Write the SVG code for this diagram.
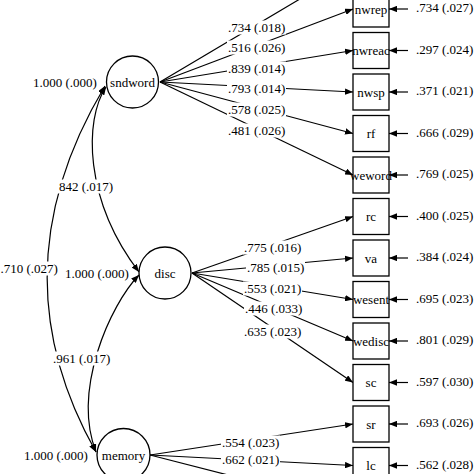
<svg xmlns="http://www.w3.org/2000/svg" width="474" height="474" viewBox="0 0 474 474">
<defs>
<marker id="ah" viewBox="0 0 10 8" refX="10" refY="4" markerWidth="8" markerHeight="6.4" markerUnits="userSpaceOnUse" orient="auto-start-reverse">
<path d="M0,0 L10,4 L0,8 Z" fill="#000"/>
</marker>
<style>
.t{font-family:"Liberation Serif","Times New Roman",serif;font-size:13px;fill:#000}
.c{text-anchor:middle}
.bg{fill:#fff}
.ln{stroke:#000;stroke-width:1.2;fill:none}
.ar{marker-end:url(#ah)}
.cv{stroke:#000;stroke-width:1.2;fill:none;marker-start:url(#ah);marker-end:url(#ah)}
.node{fill:#fff;stroke:#000;stroke-width:1.3}
</style>
</defs>
<rect width="474" height="474" fill="#fff"/>
<g id="connectors">
<!-- covariance curves -->
<path class="cv" d="M106,87 C84,120 84,200 139,272"/>
<path class="cv" d="M105,86 Q-6,271 96,452"/>
<path class="cv" d="M139,275 C110,305 72,390 96,452"/>
<!-- sndword loadings -->
<path class="ln ar" d="M160,82 L353,-32.5"/>
<path class="ln ar" d="M160,82 L353,9"/>
<path class="ln ar" d="M160,82 L353,50.5"/>
<path class="ln ar" d="M160,82 L353,92"/>
<path class="ln ar" d="M160,82 L353,133.5"/>
<path class="ln ar" d="M160,82 L353,175"/>
<!-- disc loadings -->
<path class="ln ar" d="M192,273 L353,216.5"/>
<path class="ln ar" d="M192,273 L353,258"/>
<path class="ln ar" d="M192,273 L353,299.5"/>
<path class="ln ar" d="M192,273 L353,341"/>
<path class="ln ar" d="M192,273 L353,382.5"/>
<!-- memory loadings -->
<path class="ln ar" d="M150,455 L353,424"/>
<path class="ln ar" d="M150,455 L353,465.5"/>
<path class="ln ar" d="M150,455 L353,507"/>
<!-- error arrows -->
<path class="ln ar" d="M408,9 L389,9"/>
<path class="ln ar" d="M408,50.5 L389,50.5"/>
<path class="ln ar" d="M408,92 L389,92"/>
<path class="ln ar" d="M408,133.5 L389,133.5"/>
<path class="ln ar" d="M408,175 L389,175"/>
<path class="ln ar" d="M408,216.5 L389,216.5"/>
<path class="ln ar" d="M408,258 L389,258"/>
<path class="ln ar" d="M408,299.5 L389,299.5"/>
<path class="ln ar" d="M408,341 L389,341"/>
<path class="ln ar" d="M408,382.5 L389,382.5"/>
<path class="ln ar" d="M408,424 L389,424"/>
<path class="ln ar" d="M408,465.5 L389,465.5"/>
<!-- label backgrounds -->
<rect class="bg" x="227" y="20.5" width="59" height="14"/>
<rect class="bg" x="227" y="40.5" width="59" height="14"/>
<rect class="bg" x="227" y="61.5" width="59" height="14"/>
<rect class="bg" x="227" y="81.5" width="59" height="14"/>
<rect class="bg" x="227" y="102.5" width="59" height="14"/>
<rect class="bg" x="227" y="123.5" width="59" height="14"/>
<rect class="bg" x="243" y="240.5" width="59" height="14"/>
<rect class="bg" x="246" y="260.5" width="59" height="14"/>
<rect class="bg" x="243" y="281.5" width="59" height="14"/>
<rect class="bg" x="244" y="301.5" width="59" height="14"/>
<rect class="bg" x="243" y="324.5" width="59" height="14"/>
<rect class="bg" x="221" y="435.5" width="59" height="14"/>
<rect class="bg" x="221" y="452.5" width="59" height="14"/>
<rect class="bg" x="58" y="179.5" width="56" height="14"/>
<rect class="bg" x="0" y="261.5" width="59" height="14"/>
<rect class="bg" x="52" y="351.5" width="59" height="14"/>
<!-- loading labels -->
<text class="t" x="228" y="31.5">.734 (.018)</text>
<text class="t" x="228" y="51.5">.516 (.026)</text>
<text class="t" x="228" y="72.5">.839 (.014)</text>
<text class="t" x="228" y="92.5">.793 (.014)</text>
<text class="t" x="228" y="113.5">.578 (.025)</text>
<text class="t" x="228" y="134.5">.481 (.026)</text>
<text class="t" x="244" y="251.5">.775 (.016)</text>
<text class="t" x="247" y="271.5">.785 (.015)</text>
<text class="t" x="244" y="292.5">.553 (.021)</text>
<text class="t" x="245" y="312.5">.446 (.033)</text>
<text class="t" x="244" y="335.5">.635 (.023)</text>
<text class="t" x="222" y="446.5">.554 (.023)</text>
<text class="t" x="222" y="463.5">.662 (.021)</text>
<!-- covariance labels -->
<text class="t" x="59" y="190.5">842 (.017)</text>
<text class="t" x="0.5" y="272.5">.710 (.027)</text>
<text class="t" x="53" y="362.5">.961 (.017)</text>
<text class="t" x="33" y="86.5">1.000 (.000)</text>
<text class="t" x="65" y="277.5">1.000 (.000)</text>
<text class="t" x="24" y="459.5">1.000 (.000)</text>
<!-- error labels -->
<text class="t" x="416" y="12">.734 (.027)</text>
<text class="t" x="416" y="53.5">.297 (.024)</text>
<text class="t" x="416" y="95">.371 (.021)</text>
<text class="t" x="416" y="136.5">.666 (.029)</text>
<text class="t" x="416" y="178">.769 (.025)</text>
<text class="t" x="416" y="219.5">.400 (.025)</text>
<text class="t" x="416" y="261">.384 (.024)</text>
<text class="t" x="416" y="302.5">.695 (.023)</text>
<text class="t" x="416" y="344">.801 (.029)</text>
<text class="t" x="416" y="385.5">.597 (.030)</text>
<text class="t" x="416" y="427">.693 (.026)</text>
<text class="t" x="416" y="468.5">.562 (.028)</text>
</g>
<g id="sndword"><circle class="node" cx="132.5" cy="82" r="26"/><text class="t c" x="132.5" y="86.5">sndword</text></g>
<g id="disc"><circle class="node" cx="165" cy="273" r="26"/><text class="t c" x="165" y="277.5">disc</text></g>
<g id="memory"><circle class="node" cx="123.5" cy="455" r="26.5"/><text class="t c" x="123.5" y="459.5">memory</text></g>
<g id="nwrep"><rect class="node" x="353" y="-9" width="36" height="36"/><text class="t c" x="371" y="13.5">nwrep</text></g>
<g id="nwreac"><rect class="node" x="353" y="32.5" width="36" height="36"/><text class="t c" x="371" y="55">nwreac</text></g>
<g id="nwsp"><rect class="node" x="353" y="74" width="36" height="36"/><text class="t c" x="371" y="96.5">nwsp</text></g>
<g id="rf"><rect class="node" x="353" y="115.5" width="36" height="36"/><text class="t c" x="371" y="138">rf</text></g>
<g id="weword"><rect class="node" x="353" y="157" width="36" height="36"/><text class="t c" x="371" y="179.5">weword</text></g>
<g id="rc"><rect class="node" x="353" y="198.5" width="36" height="36"/><text class="t c" x="371" y="221">rc</text></g>
<g id="va"><rect class="node" x="353" y="240" width="36" height="36"/><text class="t c" x="371" y="262.5">va</text></g>
<g id="wesent"><rect class="node" x="353" y="281.5" width="36" height="36"/><text class="t c" x="371" y="304">wesent</text></g>
<g id="wedisc"><rect class="node" x="353" y="323" width="36" height="36"/><text class="t c" x="371" y="345.5">wedisc</text></g>
<g id="sc"><rect class="node" x="353" y="364.5" width="36" height="36"/><text class="t c" x="371" y="387">sc</text></g>
<g id="sr"><rect class="node" x="353" y="406" width="36" height="36"/><text class="t c" x="371" y="428.5">sr</text></g>
<g id="lc"><rect class="node" x="353" y="447.5" width="36" height="36"/><text class="t c" x="371" y="470">lc</text></g>
</svg>
